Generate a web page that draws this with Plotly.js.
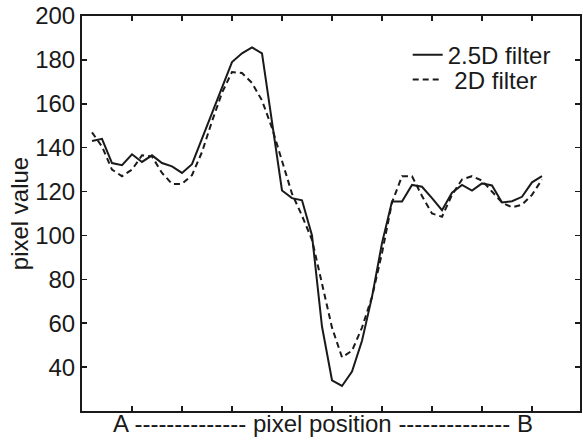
<!DOCTYPE html>
<html>
<head>
<meta charset="utf-8">
<script src="https://cdn.plot.ly/plotly-3.0.1.min.js"></script>
<style>html,body{margin:0;padding:0;background:#fff;}#chart{width:583px;height:445px;}</style>
</head>
<body>
<div id="chart"></div>
<script>
// sample index along the profile A -> B
const positions = [1,2,3,4,5,6,7,8,9,10,11,12,13,14,15,16,17,18,19,20,21,22,23,24,25,26,27,28,29,30,31,32,33,34,35,36,37,38,39,40,41,42,43,44,45,46];
// 2.5D filter (solid)
const filter25D = [143,144,133,132,137,133.5,136.5,133,131.5,128.5,132.5,144,155.5,167,179,183,185.7,183,151,120.5,117,116,100,58.5,34,31.4,38,52,72,96.5,115.5,115.5,123,122.2,117,111.5,119.5,123,120.4,123.7,122.8,115,115.6,117.6,124.2,127];
// 2D filter (dashed)
const filter2D = [147,140.5,130,127,130,136.5,136,128.5,123.5,123.5,127.5,138,152,165,174.5,174,169.5,161.5,149,134.5,119,109,98,78,58,44.5,47.5,58,72,92,115,127,127,118,110,108.5,118.5,125.5,127,125,120,115,112.8,114,118.5,125.5];
const yTicks = [40,60,80,100,120,140,160,180,200];
const xTicks = [5,10,15,20,25,30,35,40,45];
const names = ['2.5D filter', '\u00a02D filter'];
const xTitle = 'A -------------- pixel position -------------- B<span style="color:rgba(0,0,0,0)">--</span>';
const yTitle = 'pixel value';

const font = 'Liberation Sans, Arial, Helvetica, sans-serif';
const fs = 24;

const traces = [
  {x: positions, y: filter25D, type: 'scatter', mode: 'lines', name: names[0],
   line: {color: '#1a1a1a', width: 2}, legend: 'legend'},
  {x: positions, y: filter2D, type: 'scatter', mode: 'lines', name: names[1],
   line: {color: '#1a1a1a', width: 2, dash: '6px,4px'}, legend: 'legend2'}
];

const axisCommon = {
  showline: true, linecolor: '#1a1a1a', linewidth: 2, mirror: 'ticks',
  ticks: 'inside', ticklen: 5, tickwidth: 1.5, tickcolor: '#1a1a1a',
  showgrid: false, zeroline: false, automargin: false
};

const legendCommon = {
  xanchor: 'left', yanchor: 'middle', bgcolor: 'rgba(0,0,0,0)',
  font: {family: font, size: fs, color: '#1a1a1a'}, itemwidth: 30
};

const layout = {
  width: 583, height: 445,
  margin: {l: 82, r: 3, t: 16, b: 34},
  paper_bgcolor: '#fff', plot_bgcolor: '#fff',
  font: {family: font, color: '#1a1a1a'},
  xaxis: Object.assign({}, axisCommon, {
    range: [0, 49.8], tickvals: xTicks, showticklabels: false,
    title: {text: xTitle, font: {family: font, size: fs, color: '#1a1a1a'}, standoff: 3}
  }),
  yaxis: Object.assign({}, axisCommon, {
    range: [20, 200], tickvals: yTicks, ticktext: yTicks.map(String),
    tickfont: {family: font, size: fs, color: '#1a1a1a'},
    title: {text: yTitle, font: {family: font, size: fs, color: '#1a1a1a'}, standoff: 0}
  }),
  showlegend: true,
  legend: Object.assign({}, legendCommon, {x: 0.654, y: 0.901}),
  legend2: Object.assign({}, legendCommon, {x: 0.654, y: 0.838})
};

Plotly.newPlot('chart', traces, layout, {staticPlot: true, displayModeBar: false});
</script>
</body>
</html>
